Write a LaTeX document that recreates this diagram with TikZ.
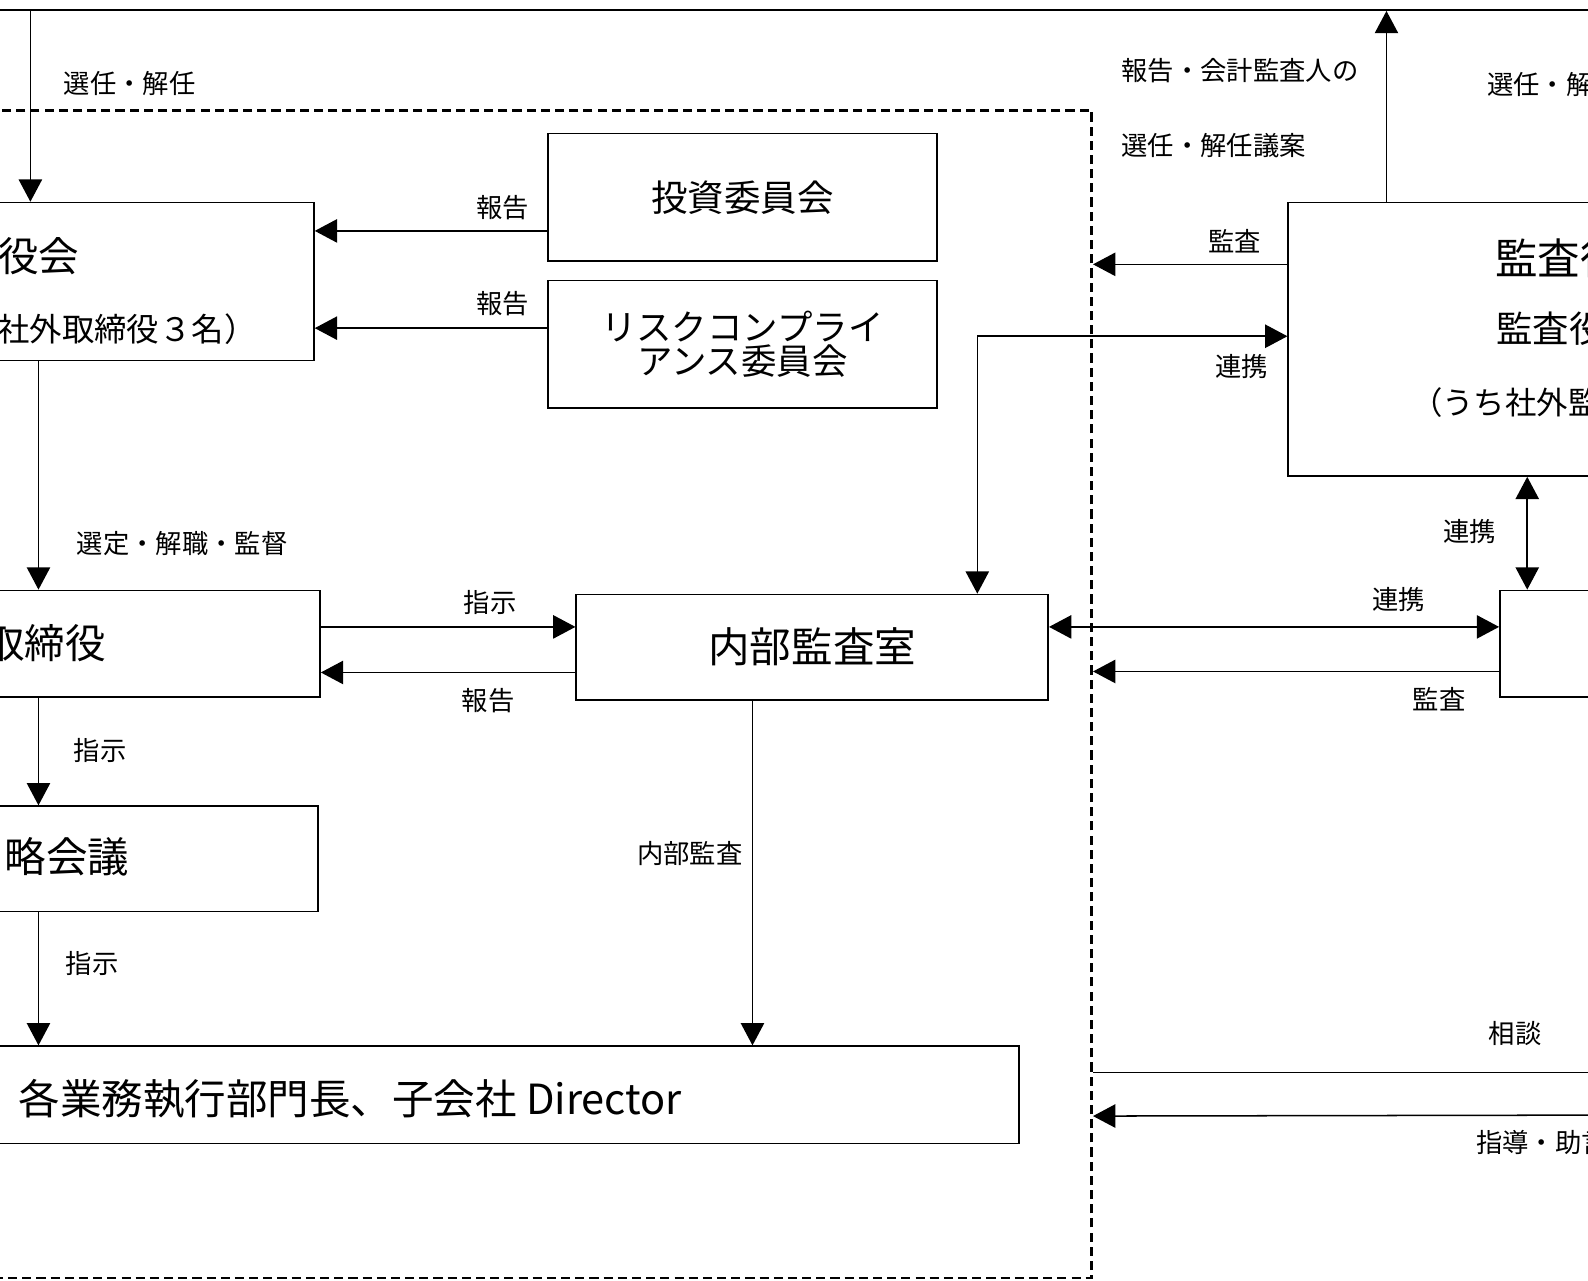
\documentclass[tikz,border=0pt]{standalone}
\usepackage{fontspec}
\setmainfont{Noto Sans CJK JP}
\usetikzlibrary{arrows.meta,positioning}

\tikzset{
  box/.style={draw,rectangle,line width=0.8pt,inner sep=0pt},
  lbl/.style={inner sep=0pt,font=\fontsize{13}{15}\selectfont},
  arr/.style={-{Triangle[length=11pt,width=11.5pt]},line width=0.75pt},
  darr/.style={{Triangle[length=11pt,width=11.5pt]}-{Triangle[length=11pt,width=11.5pt]},line width=0.75pt},
  plain/.style={line width=0.75pt}
}

\begin{document}
\begin{tikzpicture}[x=0.5pt,y=-0.5pt]
    \useasboundingbox (0,0) rectangle (1568,1264);
    \clip (0,0) rectangle (1568,1264);

    % boxes
    \node[box,minimum width=1100pt,minimum height=105pt] (soukai) at (800,-95) {};
    \node[draw,dashed,dash pattern=on 4.5pt off 2.5pt,line width=1.25pt,rectangle,
          minimum width=549pt,minimum height=576.5pt] (group) at (529,685.5) {};
    \node[box,minimum width=305pt,minimum height=78pt] (board) at (5,278) {};
    \node[box,minimum width=192pt,minimum height=63pt,font=\fontsize{18}{20}\selectfont] (invest) at (733,195) {投資委員会};
    \node[box,minimum width=192pt,minimum height=63pt,align=center,font=\fontsize{17.5}{17}\selectfont] (risk) at (733,340) {リスクコンプライ\\アンス委員会};
    \node[box,minimum width=308pt,minimum height=52.5pt] (ceo) at (8,635.5) {};
    \node[box,minimum width=233pt,minimum height=52pt,font=\fontsize{20.5}{22}\selectfont] (audit) at (802,639) {内部監査室};
    \node[box,minimum width=307pt,minimum height=52pt] (strat) at (7,848) {};
    \node[box,minimum width=653pt,minimum height=48pt] (heads) at (353,1081) {};
    \node[box,minimum width=314pt,minimum height=135pt] (kansa) at (1586,335) {};
    \node[box,minimum width=209.5pt,minimum height=52.5pt] (kaikei) at (1690.5,635.5) {};

    % texts in boxes
    \node[anchor=west,inner sep=0pt,font=\fontsize{20}{22}\selectfont] (boardA) at (-2,253) {役会};
    \node[anchor=west,inner sep=0pt,font=\fontsize{16}{18}\selectfont] (boardB) at (-3,325) {社外取締役３名）};
    \node[anchor=east,inner sep=0pt,font=\fontsize{20}{22}\selectfont] (ceoT) at (105,635) {取締役};
    \node[anchor=east,inner sep=0pt,font=\fontsize{20.5}{22}\selectfont] (stratT) at (128,846) {略会議};
    \node[anchor=west,inner sep=0pt,font=\fontsize{20.5}{22}\selectfont] (headsT) at (18,1085) {各業務執行部門長、子会社 Director};
    \node[anchor=west,inner sep=0pt,font=\fontsize{21}{23}\selectfont] (kansaA) at (1476,255) {監査役};
    \node[anchor=west,inner sep=0pt,font=\fontsize{18}{20}\selectfont] (kansaB) at (1477,325) {監査役};
    \node[anchor=west,inner sep=0pt,font=\fontsize{15.5}{17}\selectfont] (kansaC) at (1393,397) {（うち社外監};

    % rows and columns of the connectors
    \coordinate (cA) at (30,0);
    \coordinate (cB) at (38,0);
    \coordinate (cC) at (743,0);
    \coordinate (cD) at (965,0);
    \coordinate (cE) at (1369,0);
    \coordinate (cF) at (1508,0);
    \coordinate (rA) at (0,228);
    \coordinate (rB) at (0,324);
    \coordinate (rC) at (0,261);
    \coordinate (rD) at (0,332);
    \coordinate (rE) at (0,619);
    \coordinate (rF) at (0,664);
    \coordinate (rG) at (0,663);
    \coordinate (rH) at (0,1059);
    \coordinate (rI) at (0,1102);
    \coordinate (sodanEnd) at (1600,1059);
    \coordinate (shidoStart) at (1600,1101);

    % connectors
    \draw[arr] (soukai.south -| cA) -- (board.north -| cA);
    \draw[arr] (invest.west |- rA) -- (board.east |- rA);
    \draw[arr] (risk.west |- rB) -- (board.east |- rB);
    \draw[arr] (board.south -| cB) -- (ceo.north -| cB);
    \draw[arr] (ceo.east |- rE) -- (audit.west |- rE);
    \draw[arr] (audit.west |- rF) -- (ceo.east |- rF);
    \draw[arr] (ceo.south -| cB) -- (strat.north -| cB);
    \draw[arr] (strat.south -| cB) -- (heads.north -| cB);
    \draw[arr] (audit.south -| cC) -- (heads.north -| cC);
    \draw[arr] (kansa.north -| cE) -- (soukai.south -| cE);
    \draw[arr] (kansa.west |- rC) -- (group.east |- rC);
    \draw[darr] (audit.north -| cD) |- (kansa.west |- rD);
    \draw[darr] (audit.east |- rE) -- (kaikei.west |- rE);
    \draw[arr] (kaikei.west |- rG) -- (group.east |- rG);
    \draw[darr] (kansa.south -| cF) -- (kaikei.north -| cF);
    \draw[plain] (group.east |- rH) -- (sodanEnd);
    \draw[arr] (shidoStart) -- (group.east |- rI);

    % connector labels
    \node[lbl] (lSennin) at (128,82) {選任・解任};
    \node[lbl] (lHokokuA) at (496,205) {報告};
    \node[lbl] (lHokokuB) at (496,300) {報告};
    \node[lbl] (lSentei) at (180,537) {選定・解職・監督};
    \node[lbl] (lShijiA) at (484,595) {指示};
    \node[lbl] (lHokokuC) at (482,692) {報告};
    \node[lbl] (lShijiB) at (99,741) {指示};
    \node[lbl] (lShijiC) at (91,951) {指示};
    \node[lbl] (lNaibu) at (681,843) {内部監査};
    \node[lbl,anchor=west] (lKaikeiA) at (1107,70) {報告・会計監査人の};
    \node[lbl,anchor=west] (lKaikeiB) at (1107,144) {選任・解任議案};
    \node[lbl,anchor=west] (lSenninR) at (1468,83) {選任・解};
    \node[lbl] (lKansaA) at (1219,238) {監査};
    \node[lbl] (lRenkeiA) at (1226,362) {連携};
    \node[lbl] (lRenkeiB) at (1451,525) {連携};
    \node[lbl] (lRenkeiC) at (1381,592) {連携};
    \node[lbl] (lKansaB) at (1421,690) {監査};
    \node[lbl] (lSodan) at (1496,1020) {相談};
    \node[lbl,anchor=west] (lShido) at (1457,1128) {指導・助言};
\end{tikzpicture}
\end{document}
